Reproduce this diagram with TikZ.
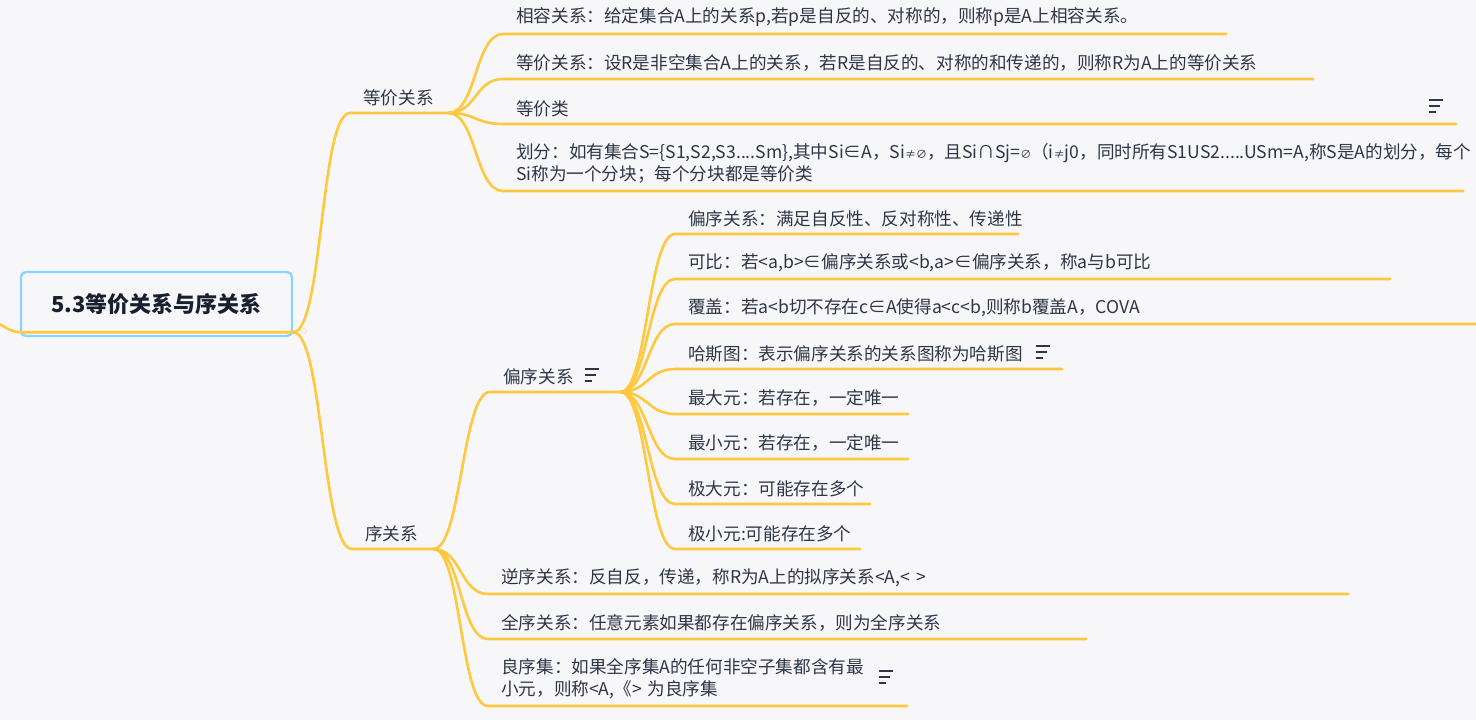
\documentclass[tikz,border=0pt]{standalone}
\usepackage{fontspec}
\newfontfamily\cjk{Noto Sans CJK SC}
\usepackage{tikz}

\definecolor{mmbg}{HTML}{F7F7FA}
\definecolor{mmyellow}{HTML}{FFC83D}
\definecolor{mmtext}{HTML}{2E3646}
\definecolor{mmroot}{HTML}{8CD4FD}
\definecolor{mmtitle}{HTML}{17202E}

\newcommand{\smallsym}[1]{{\fontsize{11}{22}\selectfont #1}}

\tikzset{
  branch/.style={draw=mmyellow, line width=2.6pt, line cap=round},
  topic/.style={anchor=south west, inner xsep=13pt, inner ysep=7pt, align=left,
    text=mmtext, font=\cjk\fontsize{17.6}{22}\selectfont},
  noteicon/.pic={\draw[mmtext, line width=1.4pt] (-7,-6) -- (7,-6) (-7,0) -- (4,0) (-7,6) -- (0,6);}
}

\begin{document}
\begin{tikzpicture}[x=1pt,y=-1pt]
  \useasboundingbox (0,0) rectangle (1476,720);
  \fill[mmbg] (0,0) rectangle (1476,720);

  % central topic
  \node[draw=mmroot, line width=2.4pt, rounded corners=5pt, minimum width=271pt, minimum height=64pt,
    text=mmtitle, font=\cjk\bfseries\fontsize{22}{26}\selectfont] (root) at (156.5,304) {5.3等价关系与序关系};
  \coordinate (inlet) at (-22,317);
  \draw[branch] (inlet) .. controls +(18,0) and +(-14,0) .. ([yshift=5pt]root.south west) -- ([yshift=5pt]root.south east);
  \node[circle, draw=mmyellow!45, line width=0.8pt, minimum size=5pt, inner sep=0pt] (fold) at (304,331) {};

  % main branches
  \node[topic, text width=72pt] (eq) at (350,113) {等价关系};
  \node[topic, text width=55pt] (ord) at (352,549) {序关系};
  \foreach \c in {eq,ord}
    \draw[branch] ([yshift=5pt]root.south east) .. controls +(30,0) and +(-30,0) .. (\c.south west) -- (\c.south east);

  % equivalence
  \node[topic, text width=697pt] (e1) at (503,34) {相容关系：给定集合A上的关系p,若p是自反的、对称的，则称p是A上相容关系。};
  \node[topic, text width=784pt] (e2) at (503,79) {等价关系：设R是非空集合A上的关系，若R是自反的、对称的和传递的，则称R为A上的等价关系};
  \node[topic, text width=927pt] (e3) at (503,124) {等价类};
  \node[topic, text width=934pt] (e4) at (503,191) {划分：如有集合S=\{S1,S2,S3....Sm\},其中Si∈A，Si\smallsym{≠∅}，且Si∩Sj=\smallsym{∅}（i\smallsym{≠}j0，同时所有S1US2.....USm=A,称S是A的划分，每个\\Si称为一个分块；每个分块都是等价类};
  \foreach \c in {e1,e2,e3,e4}
    \draw[branch] (eq.south east) .. controls +(28,0) and +(-28,0) .. (\c.south west) -- (\c.south east);
  \path (e3.south east) ++(-20,-18) pic{noteicon};

  % order
  \node[topic, text width=104pt] (po) at (490,392) {偏序关系};
  \node[topic, text width=834pt] (o2) at (488,594) {逆序关系：反自反，传递，称R为A上的拟序关系<A,< >};
  \node[topic, text width=572pt] (o3) at (488,639) {全序关系：任意元素如果都存在偏序关系，则为全序关系};
  \node[topic, text width=393pt] (o4) at (488,706) {良序集：如果全序集A的任何非空子集都含有最\\小元，则称<A,《> 为良序集};
  \foreach \c in {po,o2,o3,o4}
    \draw[branch] (ord.south east) .. controls +(28,0) and +(-28,0) .. (\c.south west) -- (\c.south east);
  \path (po.south east) ++(-28,-17) pic{noteicon};
  \path (o4.south east) ++(-21,-29) pic{noteicon};

  % partial order
  \node[topic, text width=317pt] (a1) at (675,234) {偏序关系：满足自反性、反对称性、传递性};
  \node[topic, text width=689pt] (a2) at (675,279) {可比：若<a,b>∈偏序关系或<b,a>∈偏序关系，称a与b可比};
  \node[topic, text width=775pt] (a3) at (675,324) {覆盖：若a<b切不存在c∈A使得a<c<b,则称b覆盖A，COVA};
  \node[topic, text width=361pt] (a4) at (675,369) {哈斯图：表示偏序关系的关系图称为哈斯图};
  \node[topic, text width=207pt] (a5) at (675,414) {最大元：若存在，一定唯一};
  \node[topic, text width=207pt] (a6) at (675,459) {最小元：若存在，一定唯一};
  \node[topic, text width=169pt] (a7) at (675,504) {极大元：可能存在多个};
  \node[topic, text width=159pt] (a8) at (675,549) {极小元:可能存在多个};
  \foreach \c in {a1,a2,a3,a4,a5,a6,a7,a8}
    \draw[branch] (po.south east) .. controls +(27,0) and +(-27,0) .. (\c.south west) -- (\c.south east);
  \path (a4.south east) ++(-19,-17) pic{noteicon};
\end{tikzpicture}
\end{document}
